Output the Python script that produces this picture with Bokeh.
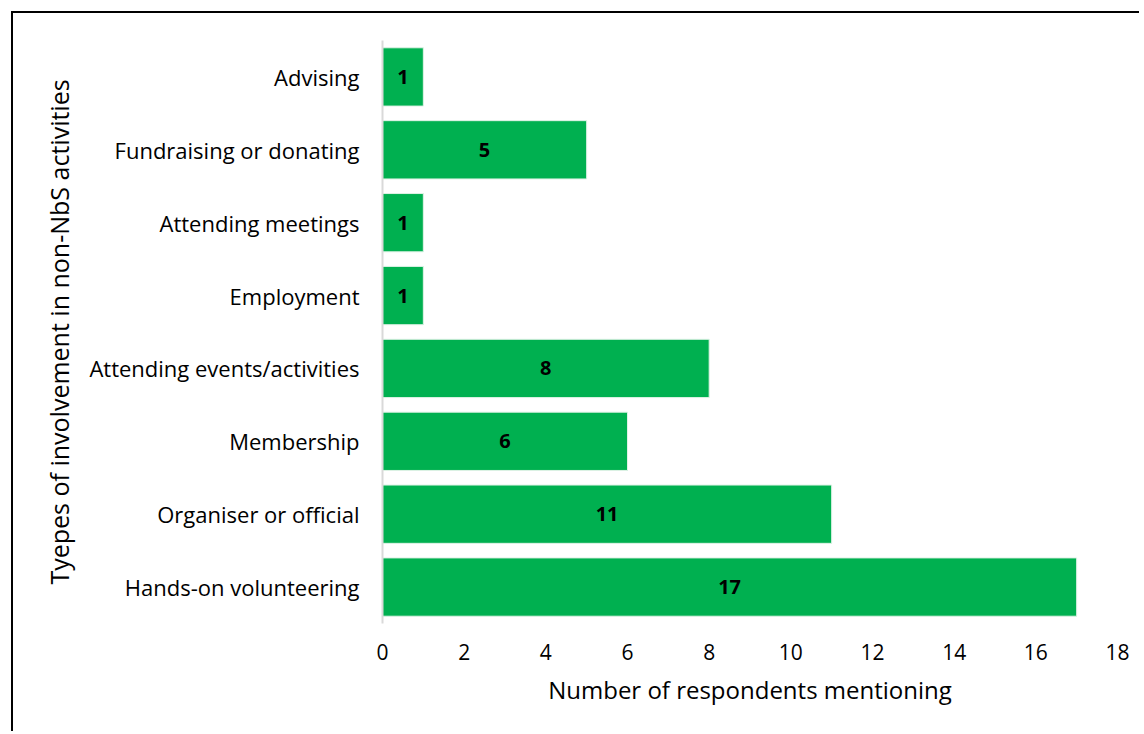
from bokeh.plotting import figure
from bokeh.models import ColumnDataSource, Range1d, FactorRange, FixedTicker
from bokeh.core.properties import value
from bokeh.embed import file_html
from bokeh.resources import INLINE

# Data (top to bottom as in the reference)
categories = ["Advising", "Fundraising or donating", "Attending meetings", "Employment",
              "Attending events/activities", "Membership", "Organiser or official",
              "Hands-on volunteering"]
counts = [1, 5, 1, 1, 8, 6, 11, 17]
x_ticks = [0, 2, 4, 6, 8, 10, 12, 14, 16, 18]

FONT = "Open Sans"
GREEN = "#00B050"

factors = list(reversed(categories))
src = ColumnDataSource(dict(
    cat=categories,
    n=counts,
    mid=[c / 2 for c in counts],
    lbl=[str(c) for c in counts],
))

p = figure(
    width=1128, height=720,
    y_range=FactorRange(*factors, range_padding=0),
    x_range=Range1d(0, 18),
    output_backend="svg", toolbar_location=None,
    min_border_left=369, min_border_top=27, min_border_right=24, min_border_bottom=110,
)
p.styles = {"border-left": "2px solid black", "border-top": "2px solid black",
            "position": "relative", "left": "11px", "top": "11px"}

p.hbar(y="cat", right="n", left=0, height=0.8, source=src,
       fill_color=GREEN, line_color="#dff2e6", line_width=1)
p.text(x="mid", y="cat", text="lbl", source=src, text_align="center",
       text_baseline="middle", text_font=value(FONT), text_font_style="bold",
       text_font_size="20px", text_color="black")

p.outline_line_color = None
p.grid.visible = False
p.background_fill_color = "white"
p.border_fill_color = "white"

xa = p.xaxis[0]
xa.ticker = FixedTicker(ticks=x_ticks)
xa.axis_line_color = None
xa.major_tick_line_color = None
xa.minor_tick_line_color = None
xa.major_label_text_font = FONT
xa.major_label_text_font_size = "21px"
xa.major_label_text_color = "black"
xa.major_label_standoff = 14
xa.axis_label = "Number of respondents mentioning"
xa.axis_label_text_font = FONT
xa.axis_label_text_font_size = "24px"
xa.axis_label_text_font_style = "normal"
xa.axis_label_text_color = "black"
xa.axis_label_standoff = 10

ya = p.yaxis[0]
ya.axis_line_color = "#d9d9d9"
ya.axis_line_width = 2
ya.major_tick_line_color = None
ya.minor_tick_line_color = None
ya.major_label_text_font = FONT
ya.major_label_text_font_size = "22px"
ya.major_label_text_color = "black"
ya.major_label_standoff = 17
ya.axis_label = "Tyepes of involvement in non-NbS activities"
ya.axis_label_text_font = FONT
ya.axis_label_text_font_size = "25px"
ya.axis_label_text_font_style = "normal"
ya.axis_label_text_color = "black"
ya.axis_label_standoff = 10

open("out.html", "w").write(file_html(p, INLINE))
